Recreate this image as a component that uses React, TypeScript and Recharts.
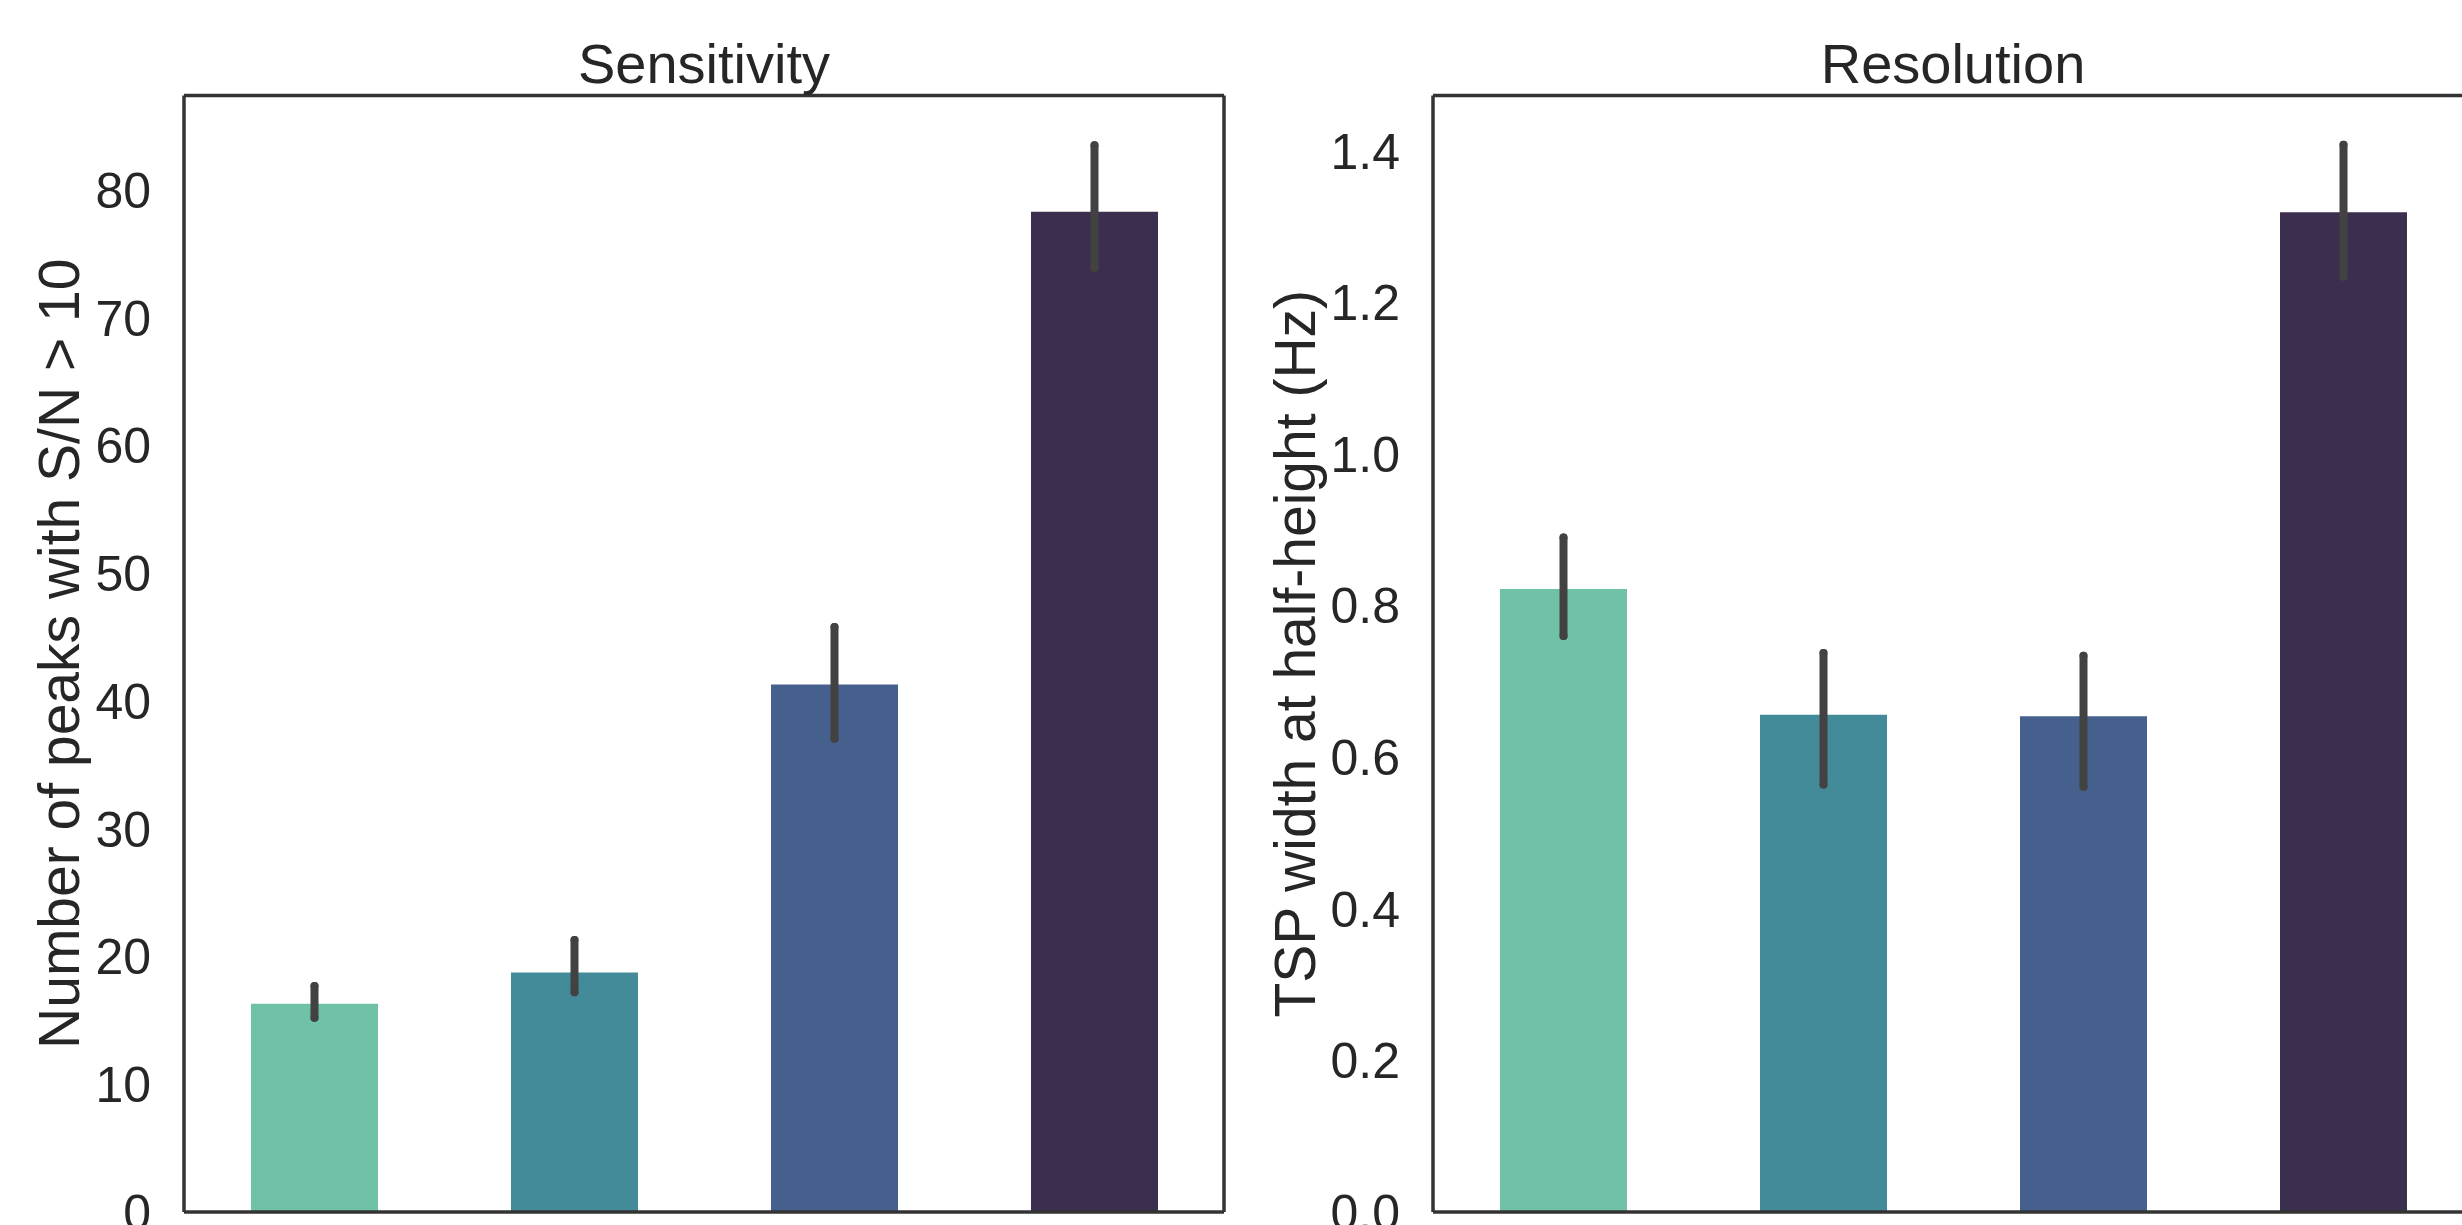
import React from "react";
import { BarChart, Bar, XAxis, YAxis, ErrorBar, Cell, Label } from "recharts";

const groups = ["A", "B", "C", "D"];
const barColors = ["#6fc1a8", "#438b98", "#46608e", "#3b2e4e"];

const sensMean = [16.3, 18.75, 41.3, 78.3];
const sensLow = [15.2, 17.2, 37.05, 73.9];
const sensHigh = [17.7, 21.3, 45.8, 83.5];
const sensTicks = [0, 10, 20, 30, 40, 50, 60, 70, 80];

const resMean = [0.822, 0.656, 0.654, 1.319];
const resLow = [0.76, 0.564, 0.561, 1.234];
const resHigh = [0.89, 0.7375, 0.734, 1.408];
const resTicks = [0, 0.2, 0.4, 0.6, 0.8, 1.0, 1.2, 1.4];

const FONT = '"Liberation Sans", Arial, Helvetica, sans-serif';
const TEXT = "#262626";
const SPINE = "#333333";
const SPINE_W = 3.5;

const build = (mean: number[], low: number[], high: number[]) =>
	groups.map((g, i) => ({
		name: g,
		value: mean[i],
		err: [mean[i] - low[i], high[i] - mean[i]],
	}));

interface PanelProps {
	title: string;
	yLabel: string;
	mean: number[];
	low: number[];
	high: number[];
	ticks: number[];
	yMax: number;
	fmt: (v: number) => string;
	plotLeft: number;
	labelGap: number;
	left: number;
}

const PLOT_TOP = 95.5;
const PLOT_BOTTOM = 1212;
const PLOT_W = 1040;
const CHART_W = 1240;
const CHART_H = 1225;

const Panel = ({ title, yLabel, mean, low, high, ticks, yMax, fmt, plotLeft, labelGap, left }: PanelProps) => {
	const data = build(mean, low, high);
	return (
		<div style={{ position: "absolute", left, top: 0, width: CHART_W, height: CHART_H }}>
			<BarChart
				width={CHART_W}
				height={CHART_H}
				data={data}
				margin={{
					top: PLOT_TOP - 1,
					right: CHART_W - plotLeft - PLOT_W - 1,
					left: 0,
					bottom: CHART_H - PLOT_BOTTOM - 1,
				}}
				barCategoryGap={0}
				style={{ overflow: "visible" }}
			>
				<XAxis
					dataKey="name"
					height={1}
					tick={false}
					tickLine={false}
					axisLine={{ stroke: SPINE, strokeWidth: SPINE_W }}
				/>
				<XAxis
					xAxisId="top"
					dataKey="name"
					orientation="top"
					height={1}
					tick={false}
					tickLine={false}
					axisLine={{ stroke: SPINE, strokeWidth: SPINE_W }}
				>
					<Label
						value={title}
						position="top"
						offset={12}
						style={{ fontFamily: FONT, fontSize: 56, fill: TEXT }}
					/>
				</XAxis>
				<YAxis
					width={plotLeft}
					domain={[0, yMax]}
					ticks={ticks}
					interval={0}
					tickFormatter={fmt}
					allowDataOverflow
					tickLine={false}
					tickMargin={27}
					axisLine={{ stroke: SPINE, strokeWidth: SPINE_W }}
					tick={{ fontFamily: FONT, fontSize: 50, fill: TEXT }}
				>
					<Label
						content={(props: any) => {
							const vb = props.viewBox || {};
							const cx = vb.x + vb.width - labelGap;
							const cy = vb.y + vb.height / 2;
							return (
								<text
									x={cx}
									y={cy}
									transform={`rotate(-90, ${cx}, ${cy})`}
									textAnchor="middle"
									dominantBaseline="central"
									style={{ fontFamily: FONT, fontSize: 57, fill: TEXT }}
								>
									{yLabel}
								</text>
							);
						}}
					/>
				</YAxis>
				<YAxis
					yAxisId="right"
					orientation="right"
					width={1}
					domain={[0, yMax]}
					tick={false}
					tickLine={false}
					axisLine={{ stroke: SPINE, strokeWidth: SPINE_W }}
				/>
				<Bar dataKey="value" barSize={127} isAnimationActive={false}>
					{data.map((d, i) => (
						<Cell key={d.name} fill={barColors[i]} />
					))}
					<ErrorBar
						dataKey="err"
						width={0}
						stroke="#424242"
						strokeWidth={8}
						strokeLinecap="round"
						isAnimationActive={false}
					/>
				</Bar>
			</BarChart>
		</div>
	);
};

export default function App() {
	return (
		<div
			style={{
				position: "fixed",
				left: 0,
				top: 0,
				width: 2462,
				height: 1225,
				overflow: "hidden",
				background: "#fff",
			}}
		>
			<Panel
				title="Sensitivity"
				yLabel="Number of peaks with S/N > 10"
				mean={sensMean}
				low={sensLow}
				high={sensHigh}
				ticks={sensTicks}
				yMax={87.4}
				fmt={(v) => String(v)}
				plotLeft={184}
				labelGap={125}
				left={0}
			/>
			<Panel
				title="Resolution"
				yLabel="TSP width at half-height (Hz)"
				mean={resMean}
				low={resLow}
				high={resHigh}
				ticks={resTicks}
				yMax={1.473}
				fmt={(v) => v.toFixed(1)}
				plotLeft={193}
				labelGap={138}
				left={1240}
			/>
		</div>
	);
}
